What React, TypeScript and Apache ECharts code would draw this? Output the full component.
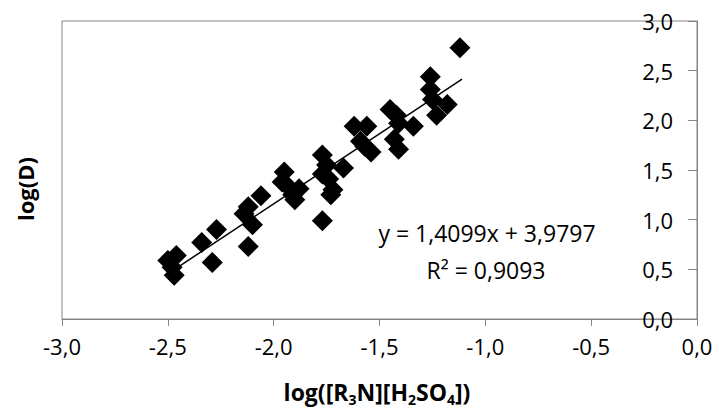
import React, { useEffect, useRef } from "react";
import * as echarts from "echarts";

// Data (x = log([R3N][H2SO4]), y = log(D))
const xValues = [
  -2.50, -2.46, -2.47, -2.48,
  -2.34, -2.27, -2.29,
  -2.12, -2.14, -2.12, -2.10, -2.06,
  -1.95, -1.96, -1.93, -1.91, -1.88, -1.90,
  -1.77, -1.75, -1.77, -1.74, -1.67, -1.72, -1.73, -1.77,
  -1.62, -1.56, -1.59, -1.54, -1.57,
  -1.45, -1.41, -1.34, -1.43, -1.41, -1.42,
  -1.26, -1.26, -1.25, -1.18, -1.23, -1.12,
];
const yValues = [
  0.59, 0.64, 0.44, 0.52,
  0.77, 0.90, 0.57,
  0.73, 1.06, 1.13, 0.95, 1.24,
  1.48, 1.38, 1.33, 1.25, 1.31, 1.20,
  1.65, 1.55, 1.46, 1.41, 1.52, 1.30, 1.25, 0.99,
  1.94, 1.94, 1.79, 1.68, 1.74,
  2.11, 1.97, 1.94, 1.81, 1.71, 2.05,
  2.44, 2.31, 2.21, 2.16, 2.05, 2.73,
];
const trendSlope = 1.4099;
const trendIntercept = 3.9797;
const trendR2 = "0,9093";
const xTicks = { min: -3, max: 0, interval: 0.5 };
const yTicks = { min: 0, max: 3, interval: 0.5 };

const FONT = "'Open Sans', 'Noto Sans', sans-serif";
const GRAY = "#868686";

const fmt = (v: number) => v.toFixed(1).replace(".", ",");

export default function App() {
  const ref = useRef<HTMLDivElement>(null);
  useEffect(() => {
    if (!ref.current) return;
    const chart = echarts.init(ref.current, undefined, { renderer: "svg" });
    const points = xValues.map((x, i) => [x, yValues[i]]);
    const xMin = Math.min(...xValues);
    const xMax = Math.max(...xValues) + 0.01;
    const trend = [
      [xMin, trendSlope * xMin + trendIntercept],
      [xMax, trendSlope * xMax + trendIntercept],
    ];
    const eqText =
      "y = " +
      String(trendSlope).replace(".", ",") +
      "x + " +
      String(trendIntercept).replace(".", ",");
    chart.setOption({
      animation: false,
      backgroundColor: "#ffffff",
      grid: {
        left: 62,
        right: 22,
        top: 21,
        bottom: 91,
        show: true,
        borderColor: GRAY,
        borderWidth: 1,
        backgroundColor: "transparent",
      },
      xAxis: {
        type: "value",
        min: xTicks.min,
        max: xTicks.max,
        interval: xTicks.interval,
        splitLine: { show: false },
        axisLine: { show: true, onZero: false, lineStyle: { color: GRAY, width: 1 } },
        axisTick: { show: true, length: 7, lineStyle: { color: GRAY } },
        axisLabel: {
          formatter: fmt,
          color: "#000",
          fontFamily: FONT,
          fontSize: 22,
          margin: 16,
        },
      },
      yAxis: {
        type: "value",
        position: "right",
        min: yTicks.min,
        max: yTicks.max,
        interval: yTicks.interval,
        splitLine: { show: false },
        axisLine: { show: true, onZero: false, lineStyle: { color: GRAY, width: 1 } },
        axisTick: { show: true, inside: true, length: 9, lineStyle: { color: GRAY } },
        axisLabel: {
          inside: true,
          formatter: fmt,
          color: "#000",
          fontFamily: FONT,
          fontSize: 22,
          margin: 24,
        },
      },
      series: [
        {
          type: "scatter",
          data: points,
          symbol: "diamond",
          symbolSize: 21,
          itemStyle: { color: "#000", opacity: 1 },
          z: 2,
        },
        {
          type: "line",
          data: trend,
          symbol: "none",
          lineStyle: { color: "#000", width: 1.5 },
          z: 3,
        },
      ],
      graphic: [
        {
          type: "text",
          x: 25,
          y: 189,
          rotation: Math.PI / 2,
          style: {
            text: "log(D)",
            fontFamily: FONT,
            fontSize: 22,
            fontWeight: "bold",
            fill: "#000",
            align: "center",
            verticalAlign: "middle",
          },
        },
        {
          type: "text",
          x: 377,
          y: 392,
          style: {
            text: "log([R{s|3}N][H{s|2}SO{s|4}])",
            fontFamily: FONT,
            fontSize: 23,
            fontWeight: "bold",
            fill: "#000",
            align: "center",
            verticalAlign: "middle",
            rich: {
              s: {
                fontFamily: FONT,
                fontSize: 14,
                fontWeight: "bold",
                fill: "#000",
                padding: [14, 0, 0, 0],
              },
            },
          },
        },
        {
          type: "text",
          x: 487,
          y: 233,
          style: {
            text: eqText,
            fontFamily: FONT,
            fontSize: 23,
            fill: "#000",
            align: "center",
            verticalAlign: "middle",
          },
        },
        {
          type: "text",
          x: 486,
          y: 270,
          style: {
            text: "R² = " + trendR2,
            fontFamily: FONT,
            fontSize: 23,
            fill: "#000",
            align: "center",
            verticalAlign: "middle",
          },
        },
      ],
    });
    return () => chart.dispose();
  }, []);
  return (
    <div
      ref={ref}
      style={{ position: "fixed", left: 0, top: 0, width: 719, height: 410, background: "#fff" }}
    />
  );
}
